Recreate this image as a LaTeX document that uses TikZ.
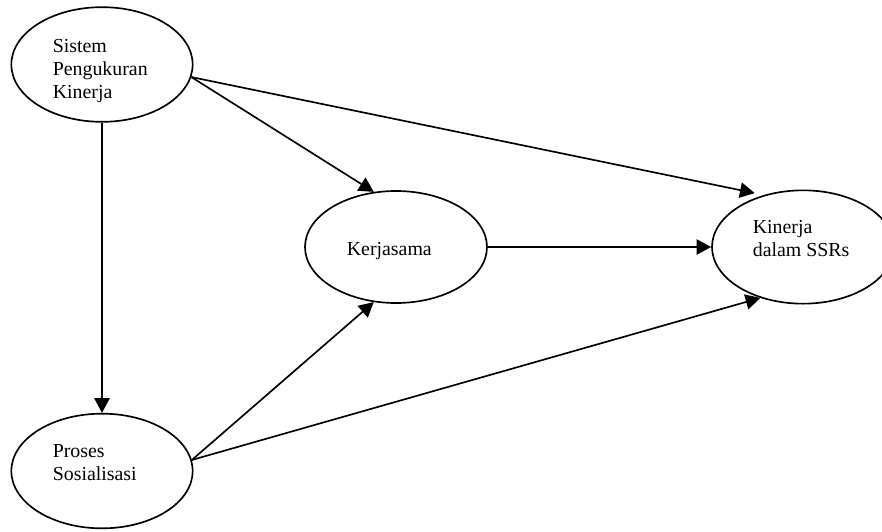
\documentclass[tikz,border=0pt]{standalone}
\usepackage{fontspec}
\setmainfont{Liberation Serif}
\usetikzlibrary{shapes.geometric,arrows.meta}
\begin{document}
\begin{tikzpicture}[x=0.75pt, y=-0.75pt, line width=1.25pt, main/.style = {draw, ellipse, inner sep=0pt},
			letter/.style={anchor=north west, inner sep=0pt, align=left, font=\fontsize{14.9}{16.9}\selectfont},
			arr/.style={-{Triangle[length=11pt, width=11.5pt]}}] 
			
			\useasboundingbox (0,0) rectangle (882,532);
			
			\node[main, minimum width=136pt, minimum height=86pt] (1) at (102,64.5) {};
			\node[main, minimum width=136pt, minimum height=86pt] (2) at (102,471) {};
			\node[main, minimum width=136.5pt, minimum height=84pt] (3) at (396,247) {};
			\node[main, minimum width=136.5pt, minimum height=85pt] (4) at (803,247) {};
			
			\draw[arr] (1) -- (2);
			\draw[arr] (1.-8) -- (3.112);
			\draw[arr, shorten >=7pt] (1.-8) -- (4.127);
			\draw[arr] (3) -- (4);
			\draw[arr] (2.7) -- (3.-112);
			\draw[arr] (2.7) -- (4.-130);
			
			\node[letter] (p1) at (52,39) {Sistem\\Pengukuran\\Kinerja};
			\node[letter] (p2) at (52,444) {Proses\\Sosialisasi};
			\node[letter] (p3) at (346,242) {Kerjasama};
			\node[letter] (p4) at (752,220) {Kinerja\\dalam SSRs};
		\end{tikzpicture}
\end{document}
